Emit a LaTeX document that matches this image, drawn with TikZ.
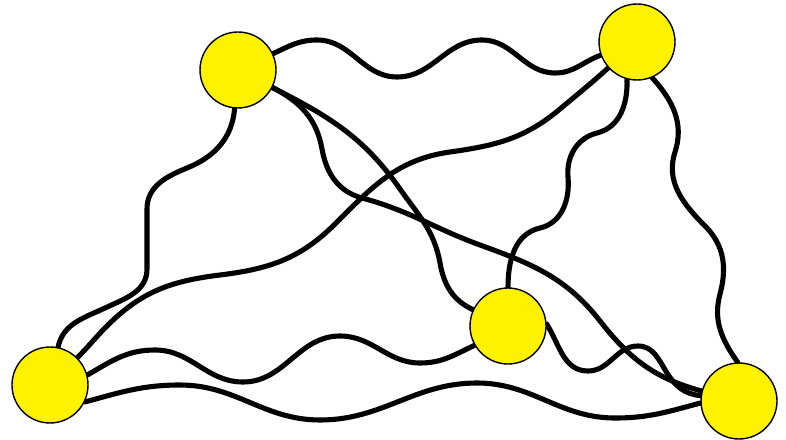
\documentclass[tikz,border=0pt]{standalone}
\usepackage{tikz}
\usetikzlibrary{backgrounds}

\begin{document}
\begin{tikzpicture}[x=0.02cm, y=0.02cm,
    every node/.style={circle, draw, fill=yellow, line width=0.8pt, minimum size=1.52cm, inner sep=0pt},
    wire/.style={line width=2.9pt, line cap=round}]

  \useasboundingbox (0,0) rectangle (786,439);

  % Vertices
  \node (nw) at (238,369) {};
  \node (ne) at (637,397) {};
  \node (sw) at (50,54) {};
  \node (mid) at (508,113) {};
  \node (se) at (739,38) {};

  % Connections
  \begin{pgfonlayer}{background}
    \draw[wire] (nw) to[out=25,in=180] (317,399) to[out=0,in=180] (397,362) to[out=0,in=180] (482,399) to[out=0,in=180] (555,366) to[out=0,in=200] (ne);
    \draw[wire] (nw) to[out=-95,in=22] (187,271) to[out=202,in=90] (147,230) -- (147,170) to[out=-90,in=25] (105,131) to[out=205,in=78] (sw);
    \draw[wire] (ne) to[out=222,in=40] (560,330) to[out=220,in=8] (450,287) to[out=188,in=45] (335,215) to[out=225,in=7] (220,164) to[out=187,in=44] (110,116) to[out=224,in=45] (sw);
    \draw[wire] (nw) to[out=-27,in=125] (400,250) to[out=-55,in=100] (440,176) to[out=-80,in=155] (mid);
    \draw[wire] (nw) to[out=-27,in=100] (322,290) to[out=-80,in=165] (362,241) to[out=-15,in=160] (480,194) to[out=-20,in=128] (600,118) to[out=-52,in=165] (se);
    \draw[wire] (ne.-105) to[out=-88,in=14] (597,306) to[out=194,in=95] (568,262) to[out=-85,in=13] (540,211) to[out=193,in=90] (mid);
    \draw[wire] (ne.-67) to[out=-48,in=72] (675,287) to[out=-108,in=135] (705,213) to[out=-45,in=75] (720,145) to[out=-105,in=125] (se.92);
    \draw[wire] (sw.15) to[out=30,in=180] (155,89) to[out=0,in=180] (243,57) to[out=0,in=180] (340,103) to[out=0,in=180] (420,76) to[out=0,in=205] (mid.210);
    \draw[wire] (sw.-26) to[out=15,in=180] (180,54) to[out=0,in=180] (320,19) to[out=0,in=180] (477,56) to[out=0,in=180] (615,21) to[out=0,in=195] (se.183);
    \draw[wire] (mid.3) to[out=-58,in=180] (588,68) to[out=0,in=180] (638,93) to[out=0,in=122] (667,66) to[out=-58,in=175] (se.172);
  \end{pgfonlayer}
\end{tikzpicture}
\end{document}
